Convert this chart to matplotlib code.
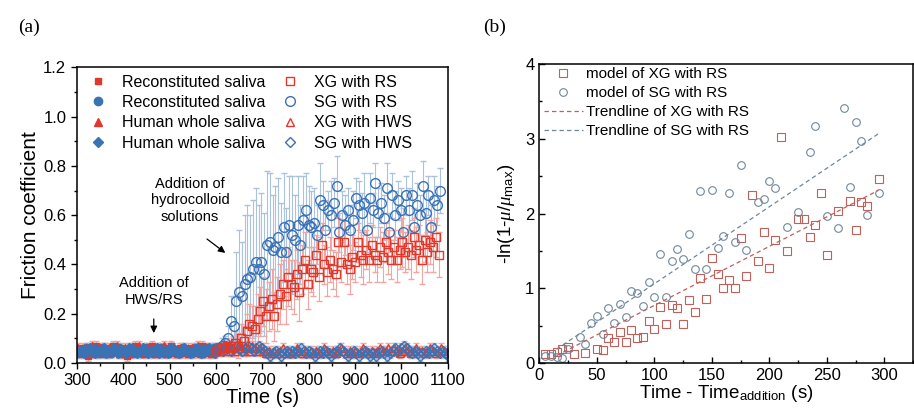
import numpy as np
import matplotlib
matplotlib.use("Agg")
import matplotlib.pyplot as plt
from matplotlib.lines import Line2D

plt.rcParams['font.family'] = ['Liberation Sans', 'DejaVu Sans']
plt.rcParams['mathtext.fontset'] = 'custom'
plt.rcParams['mathtext.rm'] = 'Liberation Sans'
plt.rcParams['mathtext.it'] = 'Liberation Serif:italic'

# ---------------- panel (a) data ----------------
# baseline (before hydrocolloid addition), sampled every 6 s from 300 s
base_start, base_step = 300, 6
rs_sq = [0.05, 0.04, 0.06, 0.05, 0.03, 0.06, 0.05, 0.07, 0.04, 0.05,
         0.06, 0.04, 0.05, 0.07, 0.05, 0.04, 0.06, 0.05, 0.03, 0.06,
         0.05, 0.07, 0.04, 0.05, 0.06, 0.05, 0.04, 0.07, 0.05, 0.06,
         0.04, 0.05, 0.06, 0.05, 0.07, 0.04, 0.05, 0.06, 0.04, 0.05,
         0.06, 0.05, 0.04, 0.06, 0.05, 0.07, 0.05, 0.04, 0.06, 0.05]
rs_ci = [0.04, 0.05, 0.05, 0.06, 0.04, 0.05, 0.06, 0.05, 0.04, 0.06,
         0.05, 0.05, 0.04, 0.06, 0.05, 0.06, 0.04, 0.05, 0.05, 0.04,
         0.06, 0.05, 0.05, 0.04, 0.05, 0.06, 0.05, 0.04, 0.05, 0.05,
         0.06, 0.04, 0.05, 0.05, 0.06, 0.05, 0.04, 0.05, 0.06, 0.05,
         0.05, 0.04, 0.06, 0.05, 0.05, 0.04, 0.06, 0.05, 0.05, 0.06]
hws_tri = [0.06, 0.05, 0.04, 0.06, 0.05, 0.07, 0.04, 0.05, 0.06, 0.05,
           0.04, 0.06, 0.05, 0.05, 0.07, 0.04, 0.05, 0.06, 0.05, 0.04,
           0.06, 0.05, 0.07, 0.05, 0.04, 0.06, 0.05, 0.05, 0.04, 0.06,
           0.05, 0.07, 0.04, 0.05, 0.06, 0.05, 0.04, 0.06, 0.05, 0.05,
           0.04, 0.06, 0.05, 0.07, 0.04, 0.05, 0.06, 0.05, 0.04, 0.06]
hws_di = [0.05, 0.05, 0.04, 0.05, 0.06, 0.05, 0.04, 0.05, 0.05, 0.06,
          0.04, 0.05, 0.05, 0.06, 0.04, 0.05, 0.05, 0.04, 0.06, 0.05,
          0.05, 0.04, 0.05, 0.06, 0.05, 0.04, 0.05, 0.05, 0.06, 0.04,
          0.05, 0.05, 0.04, 0.06, 0.05, 0.05, 0.04, 0.05, 0.06, 0.05,
          0.04, 0.05, 0.05, 0.06, 0.04, 0.05, 0.05, 0.06, 0.05, 0.04]
base_err = 0.02

# after addition, sampled every 6 s from 600 s
add_start, add_step = 600, 6
xg_rs = [0.05, 0.05, 0.06, 0.06, 0.07, 0.06, 0.07, 0.08, 0.07, 0.10,
         0.09, 0.13, 0.16, 0.15, 0.14, 0.18, 0.21, 0.25, 0.19, 0.23,
         0.26, 0.19, 0.24, 0.28, 0.32, 0.27, 0.35, 0.32, 0.31, 0.36,
         0.29, 0.38, 0.42, 0.32, 0.38, 0.37, 0.44, 0.35, 0.48, 0.40,
         0.37, 0.42, 0.38, 0.36, 0.49, 0.41, 0.49, 0.40, 0.38, 0.43,
         0.41, 0.49, 0.44, 0.42, 0.46, 0.42, 0.48, 0.44, 0.42, 0.47,
         0.43, 0.49, 0.45, 0.42, 0.47, 0.42, 0.46, 0.49, 0.45, 0.47,
         0.44, 0.51, 0.46, 0.48, 0.42, 0.50, 0.45, 0.49, 0.47, 0.51,
         0.44]
xg_rs_err = [0.02, 0.02, 0.02, 0.03, 0.03,
             0.03, 0.04, 0.05, 0.05, 0.06, 0.06, 0.07, 0.08, 0.08, 0.09, 0.10, 0.10,
             0.10, 0.11, 0.10, 0.12, 0.10, 0.11, 0.12, 0.10, 0.11, 0.12, 0.10, 0.11,
             0.10, 0.12, 0.10, 0.11, 0.10,
             0.09, 0.10, 0.08, 0.10, 0.09, 0.08, 0.10, 0.09, 0.08, 0.09, 0.10, 0.08,
             0.09, 0.08, 0.10, 0.09, 0.08,
             0.08, 0.09, 0.10, 0.08, 0.09, 0.08, 0.07, 0.09, 0.08, 0.10, 0.08, 0.09,
             0.08, 0.07, 0.09, 0.08, 0.10,
             0.08, 0.09, 0.10, 0.08, 0.09, 0.08, 0.10, 0.09, 0.08, 0.09, 0.10, 0.08,
             0.09]
sg_rs = [0.06, 0.06, 0.07, 0.08, 0.10, 0.17, 0.15, 0.25, 0.29, 0.27,
         0.32, 0.34, 0.35, 0.38, 0.41, 0.38, 0.41, 0.36, 0.48, 0.49,
         0.46, 0.47, 0.51, 0.45, 0.55, 0.45, 0.56, 0.52, 0.50, 0.56,
         0.48, 0.58, 0.62, 0.56, 0.55, 0.57, 0.52, 0.66, 0.64, 0.54,
         0.62, 0.60, 0.65, 0.72, 0.53, 0.60, 0.56, 0.62, 0.54, 0.58,
         0.67, 0.64, 0.61, 0.65, 0.54, 0.67, 0.62, 0.73, 0.61, 0.65,
         0.59, 0.71, 0.53, 0.68, 0.60, 0.66, 0.62, 0.53, 0.68, 0.62,
         0.68, 0.55, 0.64, 0.60, 0.72, 0.61, 0.68, 0.55, 0.66, 0.64,
         0.70]
sg_rs_err = [0.02, 0.02, 0.03, 0.03, 0.05,
             0.10, 0.12, 0.20, 0.25, 0.22, 0.28, 0.30, 0.25, 0.28, 0.30, 0.26, 0.28,
             0.25, 0.30, 0.28, 0.22, 0.25, 0.24, 0.20, 0.22, 0.18, 0.20, 0.24, 0.18,
             0.20, 0.16, 0.18, 0.15, 0.16,
             0.15, 0.14, 0.12, 0.15, 0.10, 0.12, 0.08, 0.14, 0.10, 0.12, 0.08, 0.10,
             0.12, 0.09, 0.10, 0.12, 0.08,
             0.10, 0.08, 0.12, 0.09, 0.10, 0.07, 0.08, 0.10, 0.08, 0.09, 0.10, 0.08,
             0.09, 0.10, 0.08, 0.09, 0.10,
             0.08, 0.09, 0.10, 0.08, 0.09, 0.08, 0.10, 0.09, 0.08, 0.09, 0.10, 0.08,
             0.09]
xg_hws = [0.05, 0.06, 0.05, 0.06, 0.07, 0.05, 0.06, 0.05, 0.07, 0.06,
          0.05, 0.06, 0.05, 0.07, 0.06, 0.05, 0.06, 0.05, 0.04, 0.05,
          0.04, 0.05, 0.04, 0.05, 0.06, 0.04, 0.05, 0.04, 0.05, 0.06,
          0.05, 0.04, 0.05, 0.04, 0.05, 0.04, 0.05, 0.04, 0.05, 0.06,
          0.05, 0.04, 0.05, 0.04, 0.05, 0.06, 0.05, 0.04, 0.05, 0.04,
          0.05, 0.04, 0.05, 0.06, 0.05, 0.04, 0.05, 0.04, 0.05, 0.06,
          0.05, 0.05, 0.06, 0.05, 0.06, 0.05, 0.04, 0.05, 0.06, 0.05,
          0.04, 0.05, 0.06, 0.05, 0.05, 0.04, 0.05, 0.06, 0.05, 0.04,
          0.05, 0.06, 0.05, 0.04]
sg_hws = [0.05, 0.06, 0.05, 0.07, 0.06, 0.05, 0.06, 0.07, 0.06, 0.05,
          0.06, 0.07, 0.06, 0.05, 0.06, 0.07, 0.06,
          0.05, 0.04, 0.03, 0.04, 0.05, 0.04, 0.03, 0.04, 0.05, 0.04,
          0.05, 0.04, 0.05, 0.06, 0.05, 0.04, 0.05,
          0.04, 0.03, 0.04, 0.05, 0.04, 0.05, 0.04, 0.03, 0.04, 0.05,
          0.06, 0.05, 0.04, 0.03, 0.04, 0.05, 0.04,
          0.03, 0.04, 0.05, 0.04, 0.03, 0.04, 0.03, 0.04, 0.05, 0.04,
          0.03, 0.04, 0.05, 0.06, 0.05, 0.06, 0.07,
          0.06, 0.05, 0.04, 0.05, 0.04, 0.03, 0.04, 0.05, 0.04, 0.05,
          0.06, 0.05, 0.04, 0.05, 0.04, 0.03]
hws_err = 0.02

# ---------------- panel (b) data ----------------
xg_t = [5, 10, 15, 20, 25, 30, 40, 50, 55, 60, 65, 70, 75, 80, 85, 90, 95, 100,
        105, 110, 115, 120, 125, 130, 135, 140, 145, 150, 155, 160, 165, 170, 175,
        180, 185, 190, 195, 200, 205, 210, 215, 225, 230, 235, 240, 245, 250, 260,
        270, 275, 280, 285, 295]
xg_v = [0.12, 0.12, 0.15, 0.19, 0.21, 0.12, 0.14, 0.19, 0.17, 0.33, 0.28, 0.42,
        0.28, 0.44, 0.33, 0.35, 0.56, 0.45, 0.75, 0.52, 0.77, 0.74, 0.52, 0.84,
        0.68, 1.14, 0.86, 1.40, 1.19, 1.01, 1.11, 1.01, 1.67, 1.16, 2.25, 1.37,
        1.75, 1.27, 1.65, 3.03, 1.50, 1.93, 1.93, 1.68, 1.84, 2.28, 1.44, 2.04,
        2.17, 1.78, 2.15, 2.10, 2.46]
sg_t = [5, 10, 15, 20, 25, 35, 40, 45, 50, 55, 60, 65, 70, 75, 80, 85, 90, 95,
        100, 105, 110, 115, 120, 125, 130, 135, 140, 145, 150, 155, 160, 165, 170,
        175, 180, 190, 195, 200, 205, 215, 225, 235, 240, 250, 260, 265, 270, 275,
        280, 285, 295]
sg_v = [0.10, 0.09, 0.08, 0.07, 0.19, 0.35, 0.26, 0.53, 0.63, 0.39, 0.74, 0.53,
        0.79, 0.61, 0.96, 0.93, 0.76, 1.08, 0.88, 1.46, 0.88, 1.37, 1.52, 1.39,
        1.72, 1.26, 2.30, 1.26, 2.31, 1.54, 1.70, 2.28, 1.62, 2.65, 1.51, 2.16,
        2.19, 2.43, 2.34, 1.82, 2.02, 2.82, 3.17, 1.96, 1.80, 3.41, 2.36, 3.23,
        2.97, 1.98, 2.27]
# trendlines (slope, intercept, x-range)
xg_fit = (0.0079, -0.02, 15, 295)
sg_fit = (0.0103, 0.03, 15, 295)

red = '#e2382c'
blue = '#3a72b6'
red_l = '#f2a6a2'
blue_l = '#aac2de'

fig = plt.figure(figsize=(9.14, 4.17), dpi=100)
ax = fig.add_axes([0.084, 0.1295, 0.406, 0.709])
bx = fig.add_axes([0.590, 0.1295, 0.409, 0.717])

def times(start, step, vals):
    return start + step * np.arange(len(vals))

tb = times(base_start, base_step, rs_sq)
ta = times(add_start, add_step, xg_rs)
th = times(add_start, add_step, xg_hws)

ms = 6
h_rs_sq = ax.errorbar(tb, rs_sq, yerr=base_err, fmt='s', color=red, ms=ms - 1,
                      ecolor=red_l, elinewidth=0.8, capsize=2)
h_rs_ci = ax.errorbar(tb + 2, rs_ci, yerr=base_err, fmt='o', color=blue, ms=ms,
                      ecolor=blue_l, elinewidth=0.8, capsize=2)
h_hws_tri = ax.errorbar(tb + 3, hws_tri, yerr=base_err, fmt='^', color=red, ms=ms,
                        ecolor=red_l, elinewidth=0.8, capsize=2)
h_hws_di = ax.errorbar(tb + 4, hws_di, yerr=base_err, fmt='D', color=blue, ms=ms - 1,
                       ecolor=blue_l, elinewidth=0.8, capsize=2)

h_xg_hws = ax.errorbar(th, xg_hws, yerr=hws_err, fmt='^', mfc='none', mec=red,
                       mew=1.0, ms=ms, ecolor=red_l, elinewidth=0.8, capsize=2)
h_sg_hws = ax.errorbar(th + 3, sg_hws, yerr=hws_err, fmt='D', mfc='none', mec=blue,
                       mew=1.0, ms=ms - 1, ecolor=blue_l, elinewidth=0.8, capsize=2)
h_sg_rs = ax.errorbar(ta + 2, sg_rs, yerr=sg_rs_err, fmt='o', mfc='none', mec=blue,
                      mew=1.0, ms=ms + 1, ecolor=blue_l, elinewidth=0.8, capsize=2.5)
h_xg_rs = ax.errorbar(ta, xg_rs, yerr=xg_rs_err, fmt='s', mfc='none', mec=red,
                      mew=1.0, ms=ms, ecolor=red_l, elinewidth=0.8, capsize=2.5)

ax.set_xlim(300, 1100)
ax.set_ylim(0, 1.2)
ax.set_xticks(np.arange(300, 1101, 100))
ax.set_xticks(np.arange(350, 1100, 100), minor=True)
ax.set_yticks(np.arange(0, 1.21, 0.2))
ax.set_yticks(np.arange(0.1, 1.2, 0.2), minor=True)
ax.set_yticklabels([f'{v:.1f}' for v in np.arange(0, 1.21, 0.2)])
ax.tick_params(labelsize=12, direction='out', length=4, width=1)
ax.tick_params(which='minor', direction='out', length=2.5, width=1)
ax.set_xlabel('Time (s)', fontsize=14.5, labelpad=0)
ax.set_ylabel('Friction coefficient', fontsize=15, labelpad=2)
for s in ax.spines.values():
    s.set_linewidth(1.1)

leg_handles = [
    Line2D([], [], marker='s', ls='none', color=red, ms=ms - 1),
    Line2D([], [], marker='o', ls='none', color=blue, ms=ms),
    Line2D([], [], marker='^', ls='none', color=red, ms=ms),
    Line2D([], [], marker='D', ls='none', color=blue, ms=ms - 1),
    Line2D([], [], marker='s', ls='none', mfc='none', mec=red, ms=ms),
    Line2D([], [], marker='o', ls='none', mfc='none', mec=blue, ms=ms + 1),
    Line2D([], [], marker='^', ls='none', mfc='none', mec=red, ms=ms),
    Line2D([], [], marker='D', ls='none', mfc='none', mec=blue, ms=ms - 1),
]
leg_labels = ['Reconstituted saliva', 'Reconstituted saliva', 'Human whole saliva',
              'Human whole saliva', 'XG with RS', 'SG with RS', 'XG with HWS',
              'SG with HWS']
ax.legend(leg_handles, leg_labels, ncol=2, loc='upper left', frameon=False,
          fontsize=11.5, handlelength=1.2, handletextpad=0.9, columnspacing=0.9,
          labelspacing=0.34, borderaxespad=0.05, bbox_to_anchor=(0.013, 1.0))

ax.annotate('', xy=(625, 0.44), xytext=(576, 0.51),
            arrowprops=dict(arrowstyle='-|>', color='black', lw=0.9, mutation_scale=10))
ax.text(544, 0.66, 'Addition of\nhydrocolloid\nsolutions', ha='center', va='center',
        fontsize=10.5, linespacing=1.25)
ax.annotate('', xy=(466, 0.11), xytext=(466, 0.19),
            arrowprops=dict(arrowstyle='-|>', color='black', lw=0.9, mutation_scale=10))
ax.text(466, 0.29, 'Addition of\nHWS/RS', ha='center', va='center',
        fontsize=10.5, linespacing=1.25)

# ---------------- panel (b) ----------------
xg_c = '#c0605a'
sg_c = '#6f879c'
bx.plot(xg_t, xg_v, 's', mfc='none', mec=xg_c, mew=0.8, ms=5.2,
        label='model of XG with RS')
bx.plot(sg_t, sg_v, 'o', mfc='none', mec=sg_c, mew=0.8, ms=5.5,
        label='model of SG with RS')
for (k, b0, x0, x1), c, lab in [(xg_fit, xg_c, 'Trendline of XG with RS'),
                                 (sg_fit, sg_c, 'Trendline of SG with RS')]:
    xs = np.array([x0, x1])
    bx.plot(xs, k * xs + b0, ls=(0, (3.5, 2.5)), color=c, lw=0.9, label=lab)

bx.set_xlim(0, 325)
bx.set_ylim(0, 4)
bx.set_xticks(np.arange(0, 301, 50))
bx.set_xticks(np.arange(25, 326, 50), minor=True)
bx.set_yticks([0, 1, 2, 3, 4])
bx.set_yticks([0.5, 1.5, 2.5, 3.5], minor=True)
bx.tick_params(labelsize=12, direction='in', length=4, width=1)
bx.tick_params(which='minor', direction='in', length=2.5, width=1)
bx.set_xlabel(r'Time - Time$_{\mathrm{addition}}$ (s)', fontsize=13.5, labelpad=0)
bx.set_ylabel(r'-ln(1-$\mu$/$\mu_{\mathrm{max}}$)', fontsize=13.5, labelpad=6)
for s in bx.spines.values():
    s.set_linewidth(1.1)
bx.legend(loc='upper left', frameon=False, fontsize=11, handlelength=2.55,
          handletextpad=0.2, labelspacing=0.33, borderpad=0.2, borderaxespad=0.1,
          bbox_to_anchor=(0.0, 1.005))

fig.text(0.02, 0.935, '(a)', fontsize=14, family='Liberation Serif', va='center')
fig.text(0.529, 0.935, '(b)', fontsize=14, family='Liberation Serif', va='center')

fig.savefig('out.png', dpi=100)
